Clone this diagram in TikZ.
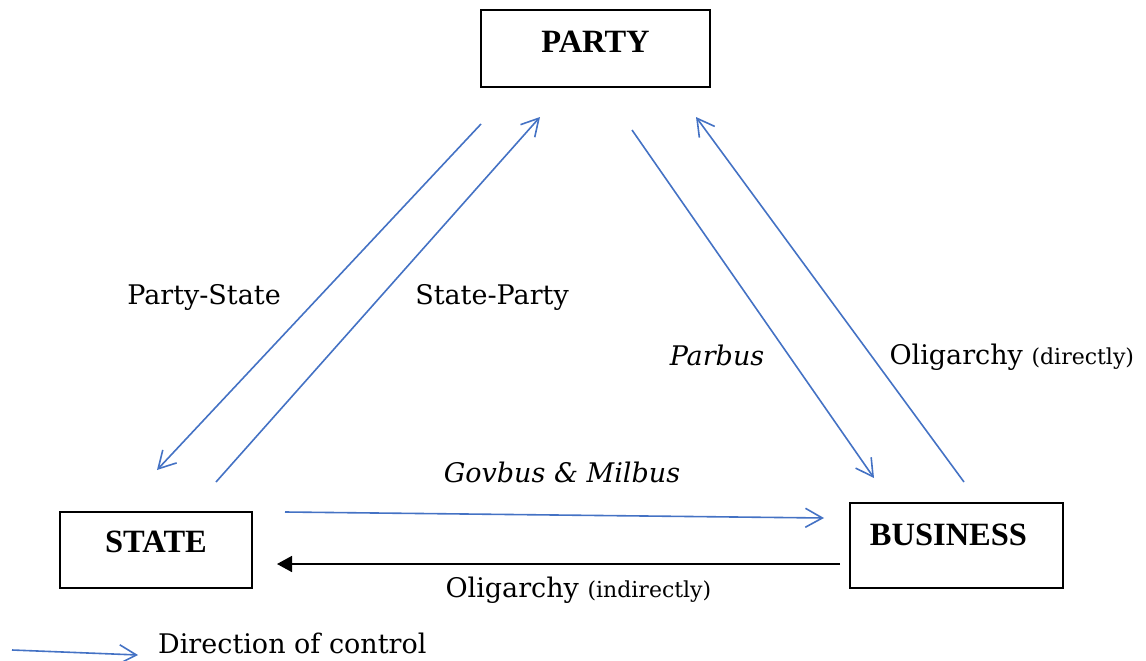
\documentclass[tikz,border=0pt]{standalone}
\usepackage{fontspec}
\usepackage{tikz}
\usetikzlibrary{arrows.meta,calc}
\newfontfamily\boxfont{Liberation Serif}
\newfontfamily\lblfont{DejaVu Serif}
\definecolor{ctrlblue}{RGB}{68,114,196}

\begin{document}
\begin{tikzpicture}[ x=1pt, y=-1pt,
  box/.style={draw, line width=1.3pt, inner sep=0pt},
  boxtext/.style={font=\boxfont\bfseries\fontsize{32.5}{36}\selectfont},
  lbl/.style={font=\lblfont\fontsize{27}{32}\selectfont},
  ctrl/.style={ctrlblue, line width=1.6pt, -{Straight Barb[length=17pt,width=19pt,line width=1.6pt]}},
  back/.style={black, line width=1.6pt, -{Triangle[length=15pt,width=16pt]}} ]

\useasboundingbox (0,0) rectangle (1146,661);

%Boxes
\node[box, minimum width=229, minimum height=77] (party) at (595.5,48.5) {};
\node[box, minimum width=192, minimum height=76] (state) at (156,550) {};
\node[box, minimum width=213, minimum height=85] (business) at (956.5,545.5) {};
\node[boxtext] (partytxt) at ($(party)+(0,-7)$) {PARTY};
\node[boxtext] (statetxt) at ($(state)+(0,-8)$) {STATE};
\node[boxtext] (businesstxt) at ($(business)+(-8,-11)$) {BUSINESS};

%Arrow ends
\path (481,124) coordinate (ps1) (157,470) coordinate (ps2);
\path (216,482) coordinate (sp1) (540,117) coordinate (sp2);
\path (632,130) coordinate (pb1) (874,478) coordinate (pb2);
\path (964,482) coordinate (od1) (696,117) coordinate (od2);
\path (285,512) coordinate (gm1) (824,518) coordinate (gm2);
\path (840,564) coordinate (oi1) (277,564) coordinate (oi2);
\path (12,650) coordinate (lg1) (138,655) coordinate (lg2);

%Control
\draw[ctrl] (ps1) -- (ps2);
\draw[ctrl] (sp1) -- (sp2);
\draw[ctrl] (pb1) -- (pb2);
\draw[ctrl] (od1) -- (od2);
\draw[ctrl] (gm1) -- (gm2);
\draw[back] (oi1) -- (oi2);
\draw[ctrl] (lg1) -- (lg2);

%Labels
\node[lbl] (pstxt) at (204,297) {Party-State};
\node[lbl] (sptxt) at (492,297) {State-Party};
\node[lbl] (pbtxt) at (717,355) {\itshape Parbus};
\node[lbl, anchor=west] (odtxt) at (886,357) {Oligarchy {\fontsize{22}{26}\selectfont(directly)}};
\node[lbl] (gmtxt) at (562,472) {\itshape Govbus \& Milbus};
\node[lbl, anchor=west] (oitxt) at (442,590) {Oligarchy {\fontsize{22}{26}\selectfont(indirectly)}};
\node[lbl, anchor=base west, inner sep=0pt] (lgtxt) at (158,653) {Direction of control};

\end{tikzpicture}
\end{document}
